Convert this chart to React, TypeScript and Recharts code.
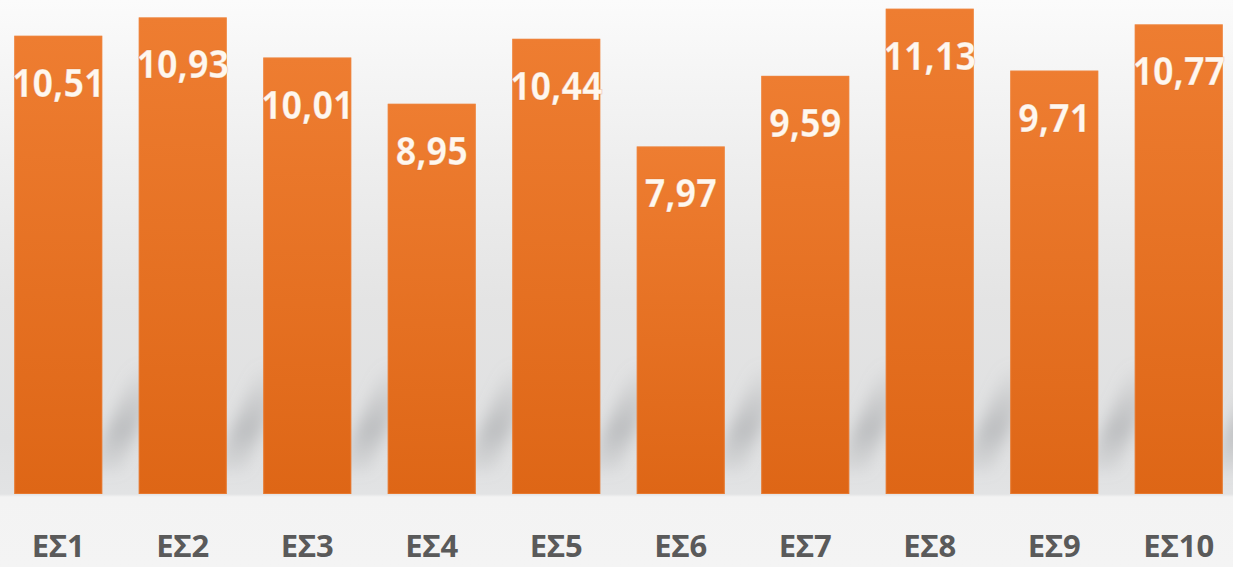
import React from 'react';
import { Bar, BarChart, LabelList, XAxis, YAxis } from 'recharts';

// Scores per ΕΣ group.
const categories = ['ΕΣ1', 'ΕΣ2', 'ΕΣ3', 'ΕΣ4', 'ΕΣ5', 'ΕΣ6', 'ΕΣ7', 'ΕΣ8', 'ΕΣ9', 'ΕΣ10'];
const values = [10.51, 10.93, 10.01, 8.95, 10.44, 7.97, 9.59, 11.13, 9.71, 10.77];
const yDomain: [number, number] = [0, 11.33];

const data = categories.map((name, i) => ({ name, value: values[i] }));

const fmt = (v: number) => v.toFixed(2).replace('.', ',');

const FONT = '"Noto Sans", "DejaVu Sans", sans-serif';

const ShadowBar = (p: any) => {
  const { x, y, width, height } = p;
  const r = x + width;
  const b = y + height;
  const pts = [
    [r - 12, b - 22],
    [r + 18, b - 22],
    [r + 62, b - 130],
    [r + 32, b - 130],
  ]
    .map((q) => q.join(','))
    .join(' ');
  return (
    <g>
      <polygon points={pts} fill="url(#esShadow)" filter="url(#esBlur)" />
      <rect x={x} y={y} width={width} height={height} fill="url(#esBar)" />
      <rect x={x + 0.5} y={y + 0.5} width={width - 1} height={height - 1} fill="none" stroke="#f08a45" strokeOpacity={0.5} />
    </g>
  );
};

const ValueLabel = (p: any) => {
  const cx = p.x + p.width / 2;
  const ty = p.y + 61;
  return (
    <text
      transform={`translate(${cx},${ty}) scale(0.9,1)`}
      textAnchor="middle"
      fontFamily={FONT}
      fontWeight={700}
      fontSize={40}
      fill="#fff7ee"
      stroke="#c9651f"
      strokeOpacity={0.25}
      strokeWidth={1}
    >
      {fmt(Number(p.value))}
    </text>
  );
};

// baseline kept high enough that the text box stays inside the 567px frame
const CategoryTick = (p: any) => (
  <text
    x={p.x}
    y={p.y + 63}
    textAnchor="middle"
    fontFamily={FONT}
    fontWeight={700}
    fontSize={31}
    fill="#5a5a5a"
  >
    {p.payload.value}
  </text>
);

export default function App() {
  return (
    <div
      style={{
        position: 'fixed',
        left: 0,
        top: 0,
        width: 1233,
        height: 567,
        overflow: 'hidden',
        background:
          'linear-gradient(to bottom, #fbfbfb 0px, #efefef 150px, #e4e4e4 300px, #dfe0e1 440px, #e2e3e4 494px, #f3f3f3 497px, #f4f4f4 567px)',
      }}
    >
      <div style={{ position: 'absolute', left: -4, top: 0 }}>
        <BarChart width={1245} height={567} data={data} margin={{ top: 0, right: 0, left: 0, bottom: 0 }} barCategoryGap="14.66%">
          <defs>
            <linearGradient id="esBar" x1="0" y1="0" x2="0" y2="1">
              <stop offset="0%" stopColor="#ee7d31" />
              <stop offset="100%" stopColor="#de6616" />
            </linearGradient>
            <linearGradient id="esShadow" x1="0" y1="1" x2="0" y2="0">
              <stop offset="0%" stopColor="#9a9c9f" stopOpacity={0.1} />
              <stop offset="40%" stopColor="#9a9c9f" stopOpacity={0.5} />
              <stop offset="100%" stopColor="#9a9c9f" stopOpacity={0} />
            </linearGradient>
            <filter id="esBlur" x="-50%" y="-20%" width="200%" height="140%">
              <feGaussianBlur stdDeviation="7" />
            </filter>
          </defs>
          <XAxis
            dataKey="name"
            axisLine={false}
            tickLine={false}
            tickSize={0}
            tickMargin={0}
            height={73}
            interval={0}
            tick={<CategoryTick />}
          />
          <YAxis hide domain={yDomain} />
          <Bar dataKey="value" shape={<ShadowBar />} isAnimationActive={false}>
            <LabelList dataKey="value" content={<ValueLabel />} />
          </Bar>
        </BarChart>
      </div>
    </div>
  );
}
